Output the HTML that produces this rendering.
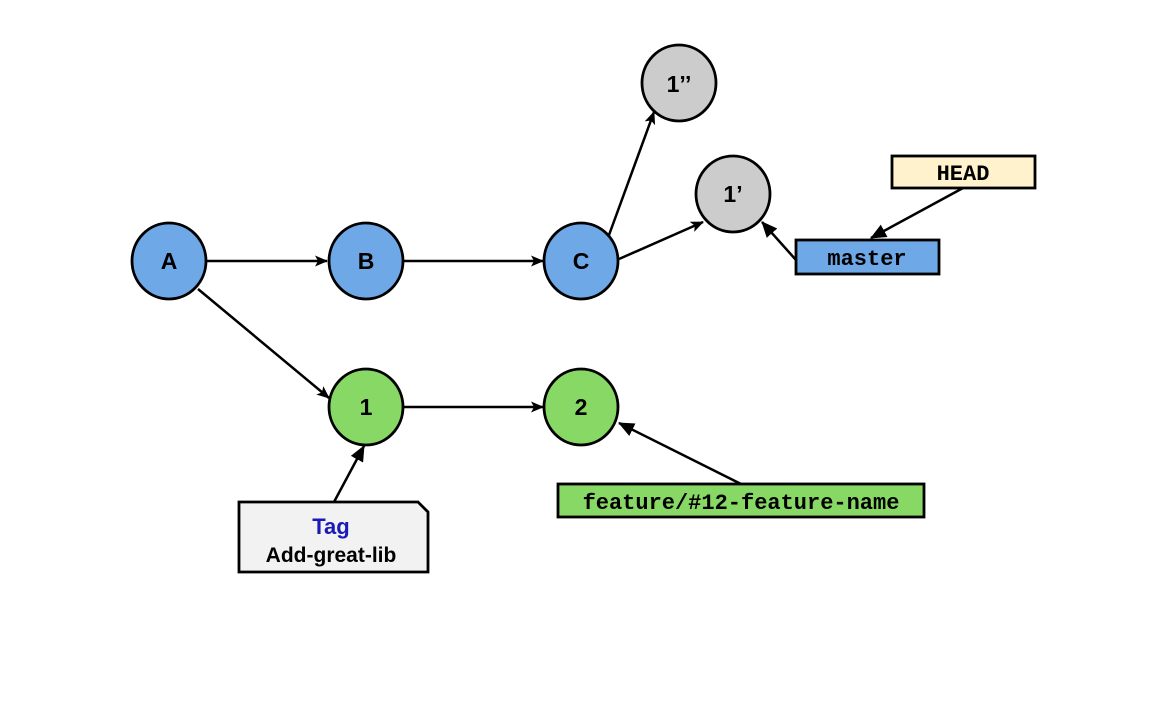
<!DOCTYPE html>
<html><head><meta charset="utf-8"><style>
html,body{margin:0;padding:0;background:#fff}
svg{display:block}
text{font-family:"Liberation Sans",Arial,sans-serif;font-weight:bold}
.m{font-family:"Liberation Mono","DejaVu Sans Mono",monospace;font-weight:bold}
</style></head><body>
<svg width="1160" height="720" viewBox="0 0 1160 720" xmlns="http://www.w3.org/2000/svg">
<defs>
<marker id="a" markerWidth="13" markerHeight="11" refX="12" refY="5.5" orient="auto" markerUnits="userSpaceOnUse">
<path d="M0,0 L13,5.5 L0,11 L3,5.5 z" fill="#000"/></marker>
<marker id="b" markerWidth="16" markerHeight="14" refX="15" refY="7" orient="auto" markerUnits="userSpaceOnUse">
<path d="M0,0 L16,7 L0,14 z" fill="#000"/></marker>
</defs>
<g stroke="#000" stroke-width="2.5" fill="none">
<line x1="207" y1="261" x2="327" y2="261" marker-end="url(#a)"/>
<line x1="404" y1="261" x2="543" y2="261" marker-end="url(#a)"/>
<line x1="609" y1="235" x2="654" y2="112" marker-end="url(#a)"/>
<line x1="619" y1="259" x2="703" y2="222" marker-end="url(#a)"/>
<line x1="198" y1="289" x2="329" y2="398" marker-end="url(#a)"/>
<line x1="404" y1="407" x2="543" y2="407" marker-end="url(#a)"/>
<line x1="796" y1="260" x2="762" y2="222" marker-end="url(#b)"/>
<line x1="963" y1="188" x2="871" y2="238" marker-end="url(#b)"/>
<line x1="334" y1="502" x2="364" y2="446" marker-end="url(#b)"/>
<line x1="741" y1="484" x2="619" y2="423" marker-end="url(#b)"/>
</g>
<g stroke="#000" stroke-width="2.8">
<ellipse cx="169" cy="261" rx="37" ry="38" fill="#6fa8e6"/>
<ellipse cx="366" cy="261" rx="37" ry="38" fill="#6fa8e6"/>
<ellipse cx="581" cy="261" rx="37" ry="38" fill="#6fa8e6"/>
<ellipse cx="679" cy="83" rx="37" ry="38" fill="#cccccc"/>
<ellipse cx="733" cy="194" rx="37" ry="38" fill="#cccccc"/>
<ellipse cx="366" cy="407" rx="37" ry="38" fill="#88d866"/>
<ellipse cx="581" cy="407" rx="37" ry="38" fill="#88d866"/>
<rect x="892" y="156" width="143" height="32" fill="#fff2cc"/>
<rect x="796" y="240" width="143" height="34" fill="#6fa8e6"/>
<rect x="558" y="484" width="366" height="33" fill="#88d866"/>
<path d="M239,502 L418,502 L428,512 L428,572 L239,572 z" fill="#f2f2f2"/>
</g>
<g font-size="23" text-anchor="middle">
<text x="169" y="269">A</text>
<text x="366" y="269">B</text>
<text x="581" y="269">C</text>
<text x="679" y="92">1’’</text>
<text x="733" y="202">1’</text>
<text x="366" y="415">1</text>
<text x="581" y="415">2</text>
</g>
<text class="m" x="963" y="180" font-size="22" text-anchor="middle">HEAD</text>
<text class="m" x="867" y="265" font-size="22" text-anchor="middle">master</text>
<text class="m" x="741" y="509" font-size="22" text-anchor="middle">feature/#12-feature-name</text>
<text x="331" y="534" font-size="22" text-anchor="middle" fill="#1a1ab8">Tag</text>
<text x="331" y="562" font-size="21" text-anchor="middle">Add-great-lib</text>
</svg>
</body></html>
